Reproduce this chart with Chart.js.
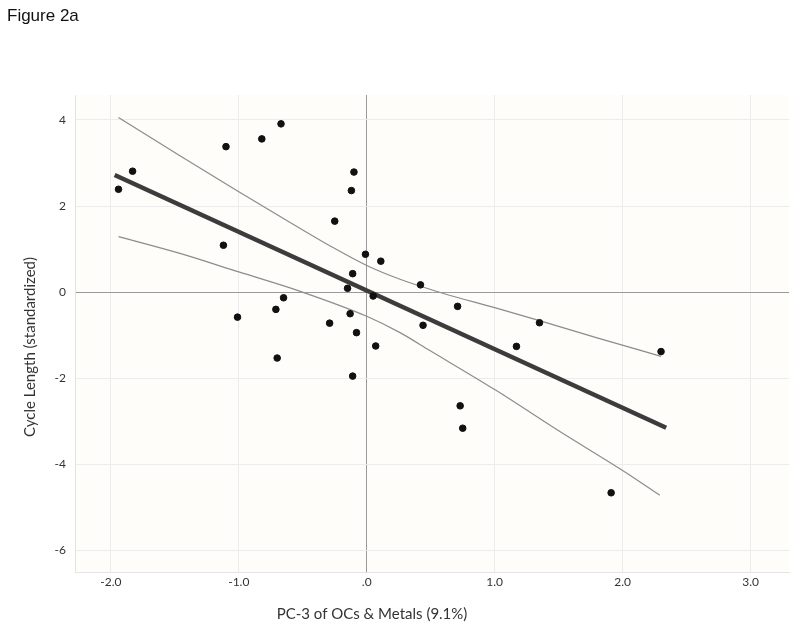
<!DOCTYPE html>
<html>
<head>
<meta charset="utf-8">
<script src="https://cdn.jsdelivr.net/npm/chart.js@4.4.1/dist/chart.umd.min.js"></script>
<style>
  html, body { margin: 0; padding: 0; background: #ffffff; }
  #wrap { width: 800px; height: 634px; position: relative; }
</style>
</head>
<body>
<div id="wrap"><canvas id="c" width="800" height="634"></canvas></div>
<script>
// ---- data ----
const figureTitle = "Figure 2a";
const xAxisTitle = "PC-3 of OCs & Metals (9.1%)";
const yAxisTitle = "Cycle Length (standardized)";

const xTickValues = [-2, -1, 0, 1, 2, 3];
const xTickLabels = ["-2.0", "-1.0", ".0", "1.0", "2.0", "3.0"];
const yTickValues = [-6, -4, -2, 0, 2, 4];
const yTickLabels = ["-6", "-4", "-2", "0", "2", "4"];

const pointX = [-1.94, -1.83, -1.10, -0.82, -0.67, -0.10, -0.12, -0.25, -1.12, -0.01, 0.11,
                -0.11, -0.15, 0.05, -0.65, -0.71, -1.01, -0.13, 0.42, -0.29, -0.08, 0.44,
                0.07, -0.70, -0.11, 0.71, 1.35, 1.17, 2.30, 0.73, 0.75, 1.91];
const pointY = [2.39, 2.81, 3.38, 3.56, 3.91, 2.79, 2.36, 1.65, 1.09, 0.88, 0.72,
                0.43, 0.09, -0.09, -0.13, -0.40, -0.58, -0.50, 0.17, -0.72, -0.94, -0.77,
                -1.25, -1.53, -1.95, -0.33, -0.71, -1.26, -1.38, -2.64, -3.16, -4.66];

const fitX = [-1.97, 2.34];
const fitY = [2.72, -3.15];

const upperX = [-1.94, -1.46, -1.00, -0.52, -0.26, 0.00, 0.26, 0.60, 1.00, 1.35, 1.80, 2.30];
const upperY = [4.06, 3.17, 2.33, 1.48, 1.03, 0.62, 0.30, -0.03, -0.36, -0.66, -1.06, -1.49];
const lowerX = [-1.94, -1.46, -1.00, -0.52, 0.00, 0.26, 0.49, 1.01, 1.50, 2.03, 2.29];
const lowerY = [1.29, 0.90, 0.47, 0.02, -0.56, -0.94, -1.35, -2.28, -3.22, -4.20, -4.72];

const xMin = -2.28, xMax = 3.30;
const yMin = -6.5, yMax = 4.58;

const zip = (xs, ys) => xs.map((x, i) => ({ x: x, y: ys[i] }));

const tickFont = { family: "Lato, 'Open Sans', sans-serif", size: 12 };

const decorPlugin = {
  id: 'decor',
  beforeDraw(chart) {
    const { ctx, chartArea: a } = chart;
    ctx.save();
    ctx.fillStyle = '#fefdf9';
    ctx.fillRect(a.left, a.top, a.right - a.left, a.bottom - a.top);
    ctx.restore();
  },
  afterDraw(chart) {
    const { ctx } = chart;
    ctx.save();
    ctx.fillStyle = '#111111';
    ctx.font = "17px 'Liberation Sans', Arial, sans-serif";
    ctx.textAlign = 'left';
    ctx.textBaseline = 'alphabetic';
    ctx.fillText(figureTitle, 7, 21);

    ctx.fillStyle = '#333333';
    ctx.font = "15px Lato, 'Open Sans', sans-serif";
    ctx.textAlign = 'center';
    ctx.textBaseline = 'middle';
    ctx.fillText(xAxisTitle, 372, 614);

    ctx.translate(30, 347);
    ctx.rotate(-Math.PI / 2);
    ctx.fillText(yAxisTitle, 0, 0);
    ctx.restore();
  }
};

const gridColor = (c) => (c.tick && c.tick.value === 0) ? '#9a9a9a' : '#ececec';

new Chart(document.getElementById('c'), {
  type: 'scatter',
  data: {
    datasets: [
      {
        label: 'points',
        data: zip(pointX, pointY),
        backgroundColor: '#111111',
        borderColor: '#111111',
        pointRadius: 3.3,
        pointHoverRadius: 3.3,
        order: 0
      },
      {
        label: 'fit',
        type: 'line',
        data: zip(fitX, fitY),
        borderColor: '#3c3c3c',
        borderWidth: 4.5,
        pointRadius: 0,
        fill: false,
        order: 1
      },
      {
        label: 'upper',
        type: 'line',
        data: zip(upperX, upperY),
        borderColor: '#8c8c8c',
        borderWidth: 1.2,
        pointRadius: 0,
        cubicInterpolationMode: 'monotone',
        fill: false,
        order: 2
      },
      {
        label: 'lower',
        type: 'line',
        data: zip(lowerX, lowerY),
        borderColor: '#8c8c8c',
        borderWidth: 1.2,
        pointRadius: 0,
        cubicInterpolationMode: 'monotone',
        fill: false,
        order: 3
      }
    ]
  },
  options: {
    responsive: false,
    animation: false,
    events: [],
    layout: { padding: { left: 0, right: 11, top: 95, bottom: 0 } },
    plugins: { legend: { display: false }, tooltip: { enabled: false }, title: { display: false } },
    scales: {
      x: {
        type: 'linear',
        min: xMin, max: xMax,
        afterBuildTicks: (s) => { s.ticks = xTickValues.map(v => ({ value: v })); },
        afterFit: (s) => { s.height = 62; },
        grid: { color: gridColor, drawTicks: false, lineWidth: 1 },
        border: { display: true, color: '#e4e4e4' },
        ticks: {
          padding: 3,
          color: '#333333',
          font: tickFont,
          maxRotation: 0,
          autoSkip: false,
          callback: (v) => { const i = xTickValues.indexOf(v); return i >= 0 ? xTickLabels[i] : ''; }
        }
      },
      y: {
        type: 'linear',
        min: yMin, max: yMax,
        afterBuildTicks: (s) => { s.ticks = yTickValues.map(v => ({ value: v })); },
        afterFit: (s) => { s.width = 75; },
        grid: { color: gridColor, drawTicks: false, lineWidth: 1 },
        border: { display: true, color: '#e4e4e4' },
        ticks: {
          padding: 9,
          color: '#333333',
          font: tickFont,
          autoSkip: false,
          callback: (v) => { const i = yTickValues.indexOf(v); return i >= 0 ? yTickLabels[i] : ''; }
        }
      }
    }
  },
  plugins: [decorPlugin]
});
</script>
</body>
</html>
